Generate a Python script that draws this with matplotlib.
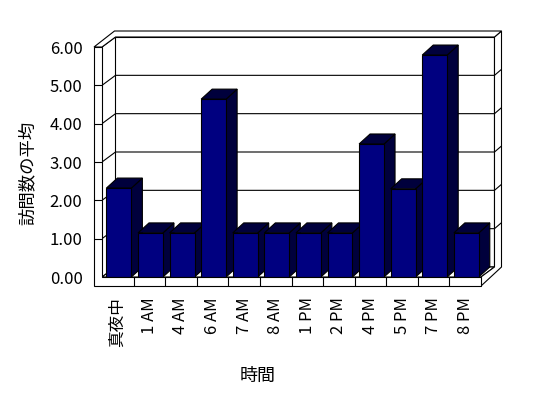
import numpy as np
import matplotlib.pyplot as plt
from matplotlib.patches import Polygon

plt.rcParams["font.family"] = ["Noto Sans CJK JP", "DejaVu Sans"]

# データ
categories = ["真夜中", "1 AM", "4 AM", "6 AM", "7 AM", "8 AM",
              "1 PM", "2 PM", "4 PM", "5 PM", "7 PM", "8 PM"]
values = [2.32, 1.15, 1.15, 4.64, 1.15, 1.15, 1.15, 1.15, 3.47, 2.30, 5.79, 1.15]
y_ticks = [0, 1, 2, 3, 4, 5, 6]
y_labels = ["0.00", "1.00", "2.00", "3.00", "4.00", "5.00", "6.00"]

W, H = 548, 398
fig = plt.figure(figsize=(W / 100, H / 100), dpi=100)
ax = fig.add_axes([102 / W, 121 / H, 379 / W, 230 / H])

n = len(categories)
x0, x1 = -0.5, n - 0.5
ymax = y_ticks[-1]
ax.set_xlim(x0, x1)
ax.set_ylim(0, ymax)

# ピクセル -> データ単位
px_x = 379 / n
px_y = 230 / ymax
dx, dy = 13.5 / px_x, 10 / px_y    # 奥行き
tx, ty = 7 / px_x, 6 / px_y        # 背面の壁の厚さ
wall = 8 / px_x                    # 左の壁の厚さ
floor = 9 / px_y                   # 床の厚さ
bdx, bdy = 11 / px_x, 10 / px_y    # 棒の奥行き
bar_off, bar_w = 0.14, 0.79
lw = 0.8
navy = "#000080"
dark = "#00003c"


def poly(pts, z, fc="white"):
    ax.add_patch(Polygon(pts, closed=True, fc=fc, ec="black", lw=lw,
                         zorder=z, clip_on=False, joinstyle="miter"))


def line(xs, ys, z):
    ax.plot(xs, ys, color="black", lw=lw, zorder=z, clip_on=False,
            solid_capstyle="butt")


# 背面の壁
poly([(x0 + dx, dy), (x1 + dx, dy), (x1 + dx, ymax + dy), (x0 + dx, ymax + dy)], 1)
# 目盛線（左の壁 -> 背面 -> 右側の厚み）
for k in y_ticks:
    line([x0, x0 + dx, x1 + dx], [k, k + dy, k + dy], 2)
    if 0 < k < ymax:
        line([x1 + dx, x1 + dx + tx], [k + dy, k + dy + ty], 30)

# 床
poly([(x0, 0), (x1, 0), (x1 + dx, dy), (x0 + dx, dy)], 3)

# 棒（左から順に描くと右の棒が手前になる）
for i, v in enumerate(values):
    l = i - 0.5 + bar_off
    r = l + bar_w
    z = 10 + i
    poly([(r, 0), (r + bdx, bdy), (r + bdx, v + bdy), (r, v)], z, dark)
    poly([(l, v), (r, v), (r + bdx, v + bdy), (l + bdx, v + bdy)], z, dark)
    ax.bar(l, v, width=bar_w, align="edge", color=navy, edgecolor="black",
           linewidth=lw, zorder=z + 0.5)

# 手前の面（左の壁 + 床）
poly([(x0 - wall, -floor), (x1, -floor), (x1, 0), (x0, 0), (x0, ymax),
      (x0 - wall, ymax)], 40)
for k in y_ticks[1:-1]:
    line([x0 - wall, x0], [k, k], 41)
for i in range(n - 1):
    line([i + 0.5, i + 0.5], [-floor, 0], 41)

# 上の面
poly([(x0 - wall, ymax), (x0, ymax), (x0 + dx, ymax + dy), (x1 + dx, ymax + dy),
      (x1 + dx + tx, ymax + dy + ty), (x0 - wall + dx + tx, ymax + dy + ty)], 40)
# 右側の面
poly([(x1 + dx, ymax + dy), (x1 + dx + tx, ymax + dy + ty), (x1 + dx + tx, dy),
      (x1, -floor), (x1, 0), (x1 + dx, dy)], 29)

# 軸
ax.set_yticks(y_ticks)
ax.set_yticklabels(y_labels, fontsize=12)
ax.set_xticks(np.arange(n))
ax.set_xticklabels(categories, rotation=90, fontsize=12, va="top")
ax.tick_params(axis="y", length=0, pad=14)
ax.tick_params(axis="x", length=0, pad=14.5)
for s in ax.spines.values():
    s.set_visible(False)
ax.patch.set_visible(False)

fig.text(28 / W, 1 - 173 / H, "訪問数の平均", rotation=90, fontsize=12.5,
         ha="center", va="center")
fig.text(258 / W, 1 - 376 / H, "時間", fontsize=13, ha="center", va="center")

fig.savefig("out.png", dpi=100)
